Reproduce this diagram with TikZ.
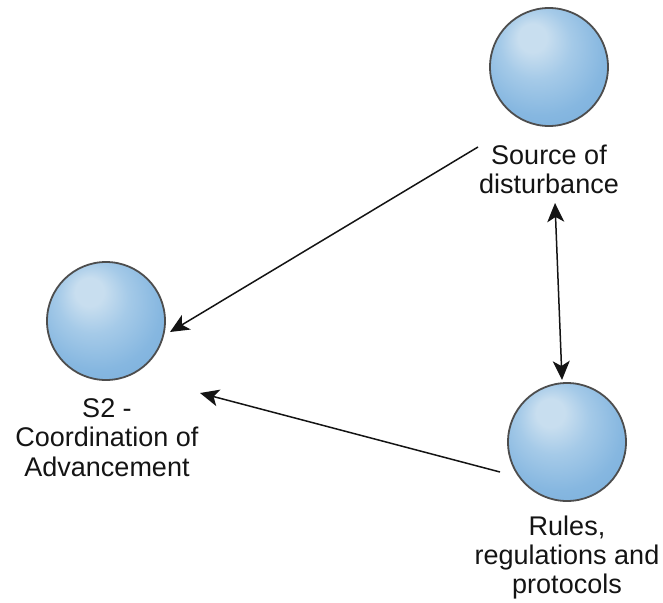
\documentclass[tikz,border=0pt]{standalone}
\usepackage{fontspec}
\setmainfont{Liberation Sans}
\usetikzlibrary{arrows.meta}

\definecolor{sphhi}{HTML}{C8DEEF}
\definecolor{sphlight}{HTML}{A5CAE8}
\definecolor{sphmid}{HTML}{86B7E0}
\definecolor{sphbody}{HTML}{79AEDC}
\definecolor{sphedge}{HTML}{6BA3D5}
\definecolor{sphrim}{HTML}{5E95CA}
\definecolor{sphline}{HTML}{4D4D4D}
\definecolor{ink}{HTML}{141414}

% glossy sphere: soft light spot up and slightly left, deeper blue at the rim
\pgfdeclareradialshading{glossysphere}{\pgfpoint{-8bp}{14bp}}{%
  color(0bp)=(sphhi); color(6bp)=(sphhi); color(15bp)=(sphlight);
  color(27bp)=(sphmid); color(38bp)=(sphbody); color(47bp)=(sphedge);
  color(50bp)=(sphrim)}

\tikzset{
  sphere/.style={circle, draw=sphline, line width=1.8pt, shading=glossysphere,
                 minimum size=118pt, inner sep=0pt},
  caption/.style={align=center, inner sep=0pt, anchor=north, text=ink,
                  font=\fontsize{27}{29.3}\selectfont},
  link/.style={draw=ink, line width=1.5pt,
               -{Stealth[length=19pt, width=17pt, inset=5pt]}},
  dlink/.style={draw=ink, line width=1.5pt,
               {Stealth[length=19pt, width=17pt, inset=5pt]}-{Stealth[length=19pt, width=17pt, inset=5pt]}}
}

\begin{document}
\begin{tikzpicture}[x=1pt, y=-1pt]
  \useasboundingbox (0,0) rectangle (663,602);

  % the three actors
  \node[sphere] (src)   at (549,67)  {};
  \node[sphere] (coord) at (106,321) {};
  \node[sphere] (rules) at (567,442) {};

  \node[caption] (srclbl)   at (549,144.5) {Source of\\disturbance};
  \node[caption] (coordlbl) at (107,398.5) {S2 -\\Coordination of\\Advancement};
  \node[caption] (ruleslbl) at (567,515.5) {Rules,\\regulations and\\protocols};

  % connector end points
  \coordinate (srcOut)    at (478,147);
  \coordinate (coordInA)  at (170,332);
  \coordinate (rulesOut)  at (500,472);
  \coordinate (coordInB)  at (200,393);
  \coordinate (srcEnd)    at (555,203);
  \coordinate (rulesEnd)  at (562,380);

  \draw[link]  (srcOut) -- (coordInA);
  \draw[link]  (rulesOut) -- (coordInB);
  \draw[dlink] (srcEnd) -- (rulesEnd);
\end{tikzpicture}
\end{document}
